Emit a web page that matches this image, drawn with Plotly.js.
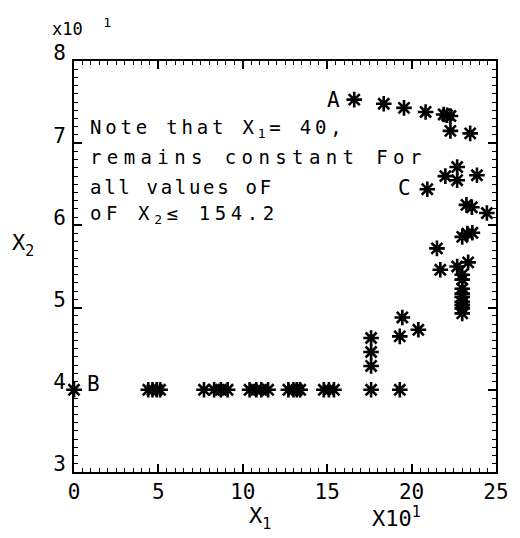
<!DOCTYPE html>
<html>
<head>
<meta charset="utf-8">
<script src="https://cdn.plot.ly/plotly-3.0.1.min.js"></script>
<style>
  html, body { margin: 0; padding: 0; background: #fff; }
  #chart { width: 520px; height: 538px; }
</style>
</head>
<body>
<div id="chart"></div>
<script>
// Design points (X1, X2) in real units; the axes label them scaled by 10^1.
const x1 = [
  0, 44, 46.5, 49, 51, 77, 83, 87, 91, 104, 108, 111, 115,
  127, 130, 132, 134, 148, 151, 154, 176, 193,
  176, 176, 176, 193, 194.5, 204,
  215, 217, 227, 233.5,
  230, 230, 230, 230, 230, 230, 230, 230, 230,
  230, 233, 236, 232.5, 235.7, 244.6,
  209.3, 220, 227, 227, 238.7,
  223, 234.7,
  166, 183.5, 195.5, 208.3, 219, 221, 223
];
const x2 = [
  40, 40, 40, 40, 40, 40, 40, 40, 40, 40, 40, 40, 40,
  40, 40, 40, 40, 40, 40, 40, 40, 40,
  42.9, 44.6, 46.3, 46.5, 48.8, 47.3,
  57.2, 54.6, 55.0, 55.5,
  54.0, 53.4, 52.3, 51.7, 51.3, 50.7, 50.3, 49.9, 49.3,
  58.6, 59.0, 59.1, 62.5, 62.2, 61.5,
  64.4, 66.0, 65.5, 67.1, 66.1,
  71.5, 71.2,
  75.3, 74.8, 74.3, 73.8, 73.5, 73.4, 73.3
];

// Lettered points
const labelNames = ['A', 'B', 'C'];
const labelX1 = [166, 0, 209.3];
const labelX2 = [75.3, 40, 64.4];

// Axis ticks (real units) and their scaled labels
const xTickVals = [0, 50, 100, 150, 200, 250];
const xTickText = ['0', '5', '10', '15', '20', '25'];
const yTickVals = [30, 40, 50, 60, 70, 80];
const yTickText = ['3', '4', '5', '6', '7', '8'];

// small raised / lowered digit with an explicit pixel size
function lower(d, size, shift) {
  return '<span style="font-size:' + size + 'px;baseline-shift:-' + shift + 'px">' + d + '</span>';
}
function raise(d, size, shift) {
  return '<span style="font-size:' + size + 'px;baseline-shift:' + shift + 'px">' + d + '</span>';
}

// Note printed inside the plot
const noteLines = [
  'Note that X' + lower('1', 13, 4) + '= 40,',
  'remains constant For',
  'all values oF',
  'oF X' + lower('2', 13, 4) + '\u2264 154.2'
];
// letter spacing (px) for each note line
const noteSpacing = [3.8, 5.4, 2.7, 4.6];

const FONT = 'DejaVu Sans Mono';
const INK = '#000';

const stars = {
  x: x1, y: x2, type: 'scatter', mode: 'markers', cliponaxis: false,
  marker: { symbol: 'asterisk-open', size: 13, color: INK, line: { color: INK, width: 2.6 } },
  hoverinfo: 'skip', showlegend: false
};
const cores = {
  x: x1, y: x2, type: 'scatter', mode: 'markers', cliponaxis: false,
  marker: { symbol: 'circle', size: 6, color: INK },
  hoverinfo: 'skip', showlegend: false
};

const annotations = [];
// letters beside the marked points
const labelShift = [[-21, 0], [19, 6], [-23, 1]];
labelNames.forEach((n, i) => {
  annotations.push({
    x: labelX1[i], y: labelX2[i], xref: 'x', yref: 'y', text: n, showarrow: false,
    xshift: labelShift[i][0], yshift: labelShift[i][1],
    font: { family: FONT, size: 21, color: INK }
  });
});
// note block, one line per annotation
const noteY = [71.8, 68.3, 64.7, 61.3];
noteLines.forEach((t, i) => {
  annotations.push({
    x: 8.3, y: noteY[i], xref: 'x', yref: 'y',
    text: '<span style="letter-spacing:' + noteSpacing[i] + 'px">' + t + '</span>',
    showarrow: false, xanchor: 'left', yanchor: 'middle',
    font: { family: FONT, size: 19, color: INK }
  });
});
// axis names and scale factors (paper units span the plotting area)
annotations.push(
  { x: 0.41, y: -0.112, xref: 'paper', yref: 'paper', text: 'X' + lower('1', 15, 6), showarrow: false,
    xanchor: 'left', yanchor: 'middle', font: { family: FONT, size: 22, color: INK } },
  { x: 0.701, y: -0.109, xref: 'paper', yref: 'paper', text: 'X10' + raise('1', 15, 9), showarrow: false,
    xanchor: 'left', yanchor: 'middle', font: { family: FONT, size: 22, color: INK } },
  { x: -0.152, y: 0.552, xref: 'paper', yref: 'paper', text: 'X' + lower('2', 15, 6), showarrow: false,
    xanchor: 'left', yanchor: 'middle', font: { family: FONT, size: 22, color: INK } },
  { x: -0.057, y: 1.083, xref: 'paper', yref: 'paper', text: 'x10\u00a0\u00a0' + raise('1', 13, 8), showarrow: false,
    xanchor: 'left', yanchor: 'middle', font: { family: FONT, size: 17, color: INK } }
);

const axisCommon = {
  showgrid: false, zeroline: false, showline: true, linecolor: INK, linewidth: 2,
  mirror: 'allticks', ticks: 'inside', ticklen: 8, tickwidth: 1.5, tickcolor: INK,
  tickfont: { family: FONT, size: 21, color: INK }, tickmode: 'array', fixedrange: true
};

const layout = {
  width: 520, height: 538,
  margin: { l: 74, r: 24, t: 61, b: 66, pad: 0 },
  paper_bgcolor: '#fff', plot_bgcolor: '#fff',
  showlegend: false,
  xaxis: Object.assign({}, axisCommon, {
    range: [0, 250], tickvals: xTickVals, ticktext: xTickText,
    minor: { dtick: 5, ticks: 'inside', ticklen: 4, tickwidth: 1.2, tickcolor: INK, showgrid: false }
  }),
  yaxis: Object.assign({}, axisCommon, {
    range: [30, 80], tickvals: yTickVals, ticktext: yTickText, ticklabelshift: -8, ticklabelstandoff: 2,
    minor: { dtick: 1, ticks: 'inside', ticklen: 4, tickwidth: 1.2, tickcolor: INK, showgrid: false }
  }),
  annotations: annotations
};

Plotly.newPlot('chart', [stars, cores], layout, { displayModeBar: false });
</script>
</body>
</html>
